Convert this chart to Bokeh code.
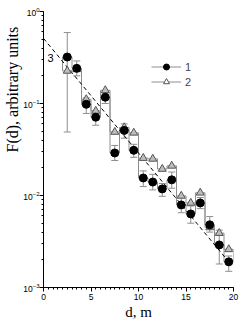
import numpy as np
from bokeh.plotting import figure
from bokeh.models import (ColumnDataSource, Whisker, TeeHead, Label, Legend,
                          LegendItem, SingleIntervalTicker, Range1d, Title)
from bokeh.embed import file_html
from bokeh.resources import INLINE

# ---- data ----
d = [2.5, 3.5, 4.5, 5.5, 6.5, 7.5, 8.5, 9.5, 10.5, 11.5, 12.5, 13.5,
     14.5, 15.5, 16.5, 17.5, 18.5, 19.5]
f1 = [0.32, 0.241, 0.098, 0.071, 0.117, 0.029, 0.051, 0.031, 0.0155, 0.014,
      0.0118, 0.0148, 0.0079, 0.0063, 0.0083, 0.0048, 0.0029, 0.0019]
f2 = [0.226, 0.235, 0.111, 0.083, 0.139, 0.049, 0.055, 0.048, 0.0255, 0.025,
      0.0194, 0.021, 0.0099, 0.0083, 0.0107, 0.0045, 0.0039, 0.0026]
f1_hi = [0.59, 0.29, 0.115, 0.083, 0.13, 0.035, 0.06, 0.036, 0.0185, 0.017,
         0.0135, 0.018, 0.0095, 0.0077, 0.0095, 0.0059, 0.0042, 0.0022]
f1_lo = [0.049, 0.20, 0.078, 0.058, 0.10, 0.024, 0.042, 0.026, 0.0125, 0.0115,
         0.0098, 0.012, 0.0065, 0.005, 0.0072, 0.004, 0.0018, 0.0015]
fit_d = [0.0, 19.5]
fit_f = [0.51, 0.0019]
series_labels = ["1", "2"]
fit_label = "3"

GRAY = "#8e8e8e"

p = figure(width=240, height=322, x_range=Range1d(0, 20),
           y_range=Range1d(1e-3, 1), y_axis_type="log",
           output_backend="svg", toolbar_location=None,
           min_border_left=43, min_border_right=7, min_border_top=11,
           min_border_bottom=34)
p.xgrid.visible = False
p.ygrid.visible = False
p.outline_line_color = None

# axes
for ax in (p.xaxis[0], p.yaxis[0]):
    ax.axis_line_color = "black"
    ax.major_tick_line_color = "black"
    ax.minor_tick_line_color = "black"
    ax.major_label_text_font = "Liberation Sans"
    ax.major_label_text_font_size = "8.5px"
    ax.major_label_text_color = "black"
    ax.minor_tick_out = 2
    ax.minor_tick_in = 0
    ax.major_tick_in = 0
    ax.major_label_standoff = 2
p.xaxis.ticker = SingleIntervalTicker(interval=5, num_minor_ticks=10)
p.xaxis.major_tick_out = 4
p.yaxis.major_tick_out = 4
p.yaxis.major_label_standoff = 0
p.xaxis.axis_label = "d, m"
p.xaxis.axis_label_text_font = "Liberation Serif"
p.xaxis.axis_label_text_font_style = "normal"
p.xaxis.axis_label_text_font_size = "15px"
p.xaxis.axis_label_text_color = "black"
p.xaxis.axis_label_standoff = 1

# y axis title, placed as a left-side title starting part way up
ytitle = Title(text="F(d), arbitrary units", align="left", offset=135,
               text_font="Liberation Serif", text_font_size="16px",
               text_font_style="normal", text_color="black", standoff=0)
p.add_layout(ytitle, "left")

# step outline between the two series (closed polygon)
dd = np.array(d)
edges = np.concatenate([dd - 0.5, [dd[-1] + 0.5]])
xs = np.repeat(edges, 2)[1:-1]
top = np.repeat(np.array(f2), 2)
bot = np.repeat(np.array(f1), 2)
p.patch(np.concatenate([xs, xs[::-1]]), np.concatenate([top, bot[::-1]]),
        fill_color=None, line_color=GRAY, line_width=1)

# fitted dashed line
p.line(fit_d, fit_f, line_color="black", line_dash="4 3", line_width=1)

src = ColumnDataSource(dict(d=d, f1=f1, f2=f2, hi=f1_hi, lo=f1_lo))
wh = Whisker(base="d", upper="hi", lower="lo", source=src,
             line_color=GRAY, line_width=1, level="underlay")
wh.upper_head = TeeHead(size=7, line_color=GRAY, line_width=1)
wh.lower_head = TeeHead(size=7, line_color=GRAY, line_width=1)
p.add_layout(wh)

p.scatter("d", "f2", source=src, marker="triangle", size=8,
          fill_color="#bdbdbd", line_color="#555555", line_width=1)
p.scatter("d", "f1", source=src, marker="circle", size=8,
          fill_color="black", line_color="black")

# legend renderers
nan = [np.nan]
l1 = p.line(nan, nan, line_color=GRAY, line_width=1)
m1 = p.scatter(nan, nan, marker="circle", fill_color="black", line_color="black")
l2 = p.line(nan, nan, line_color=GRAY, line_width=1)
m2 = p.scatter(nan, nan, marker="triangle", fill_color="white", line_color="#555555")
legend = Legend(items=[LegendItem(label=series_labels[0], renderers=[l1, m1]),
                       LegendItem(label=series_labels[1], renderers=[l2, m2])],
                location=(108, 198), glyph_width=30, glyph_height=15,
                label_height=15, spacing=0, padding=0, margin=0,
                label_standoff=4, border_line_color=None,
                background_fill_alpha=0, label_text_font="Liberation Sans",
                label_text_font_size="11px", label_text_baseline="middle")
p.add_layout(legend)

# annotation "3"
p.add_layout(Label(x=0.74, y=0.31, text=fit_label, text_align="center",
                   text_baseline="middle", text_font="Liberation Sans",
                   text_font_size="11px", text_color="black"))

open("out.html", "w").write(file_html(p, INLINE))
